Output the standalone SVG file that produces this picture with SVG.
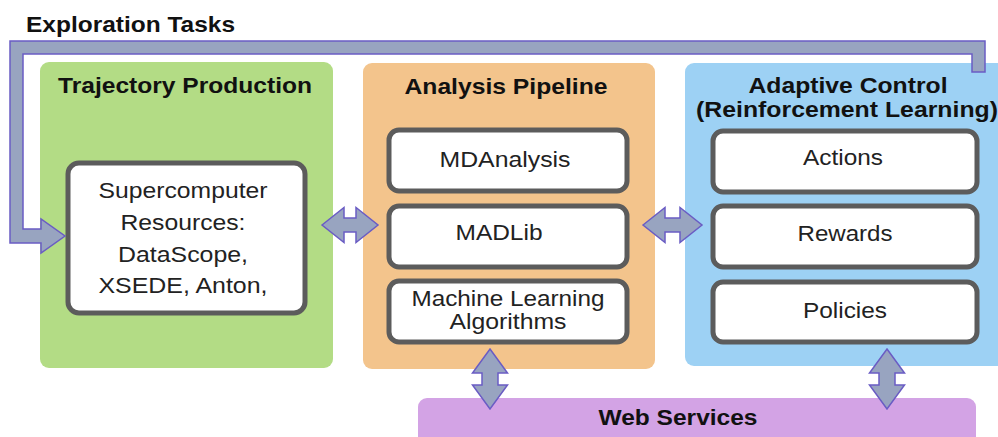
<svg xmlns="http://www.w3.org/2000/svg" width="998" height="437" viewBox="0 0 998 437">
<style>
.t{font-family:"Liberation Sans",Arial,sans-serif;font-weight:bold;font-size:22px;fill:#111;text-anchor:middle}
.l{font-family:"Liberation Sans",Arial,sans-serif;font-size:22px;fill:#222;text-anchor:middle}
.box{fill:#fff;stroke:#5c5c5c;stroke-width:5}
.arr{fill:#98a4c0;stroke:#6a5cc4;stroke-width:1.5;stroke-linejoin:miter}
</style>
<rect width="998" height="437" fill="#fff"/>
<g id="exploration-label">
<text class="t" x="26" y="32" style="text-anchor:start" textLength="209" lengthAdjust="spacingAndGlyphs">Exploration Tasks</text>
</g>
<g id="trajectory-production">
<rect x="40" y="62" width="293" height="306" rx="9" fill="#b3dc85"/>
<text class="t" x="185" y="93" textLength="254" lengthAdjust="spacingAndGlyphs">Trajectory Production</text>
</g>
<g id="supercomputer">
<rect class="box" x="68" y="163" width="237" height="150" rx="11"/>
<text class="l" x="183" y="198" font-size="23" textLength="169" lengthAdjust="spacingAndGlyphs">Supercomputer</text>
<text class="l" x="183" y="230" textLength="125" lengthAdjust="spacingAndGlyphs">Resources:</text>
<text class="l" x="183" y="262" textLength="130" lengthAdjust="spacingAndGlyphs">DataScope,</text>
<text class="l" x="183" y="293" textLength="169" lengthAdjust="spacingAndGlyphs">XSEDE, Anton,</text>
</g>
<g id="analysis-pipeline">
<rect x="363" y="63" width="292" height="306" rx="9" fill="#f3c48c"/>
<text class="t" x="506" y="94" textLength="203" lengthAdjust="spacingAndGlyphs">Analysis Pipeline</text>
</g>
<g id="mdanalysis">
<rect class="box" x="389" y="130" width="238" height="61" rx="10"/>
<text class="l" x="505" y="167" textLength="131" lengthAdjust="spacingAndGlyphs">MDAnalysis</text>
</g>
<g id="madlib">
<rect class="box" x="389" y="206" width="238" height="61" rx="10"/>
<text class="l" x="499" y="240" textLength="87" lengthAdjust="spacingAndGlyphs">MADLib</text>
</g>
<g id="machine-learning">
<rect class="box" x="389" y="281" width="238" height="61" rx="10"/>
<text class="l" x="508" y="306" font-size="20" textLength="193" lengthAdjust="spacingAndGlyphs">Machine Learning</text>
<text class="l" x="508" y="329" font-size="20" textLength="117" lengthAdjust="spacingAndGlyphs">Algorithms</text>
</g>
<g id="adaptive-control">
<rect x="685" y="63" width="330" height="303" rx="9" fill="#9dd1f4"/>
<text class="t" x="848" y="93" textLength="199" lengthAdjust="spacingAndGlyphs">Adaptive Control</text>
<text class="t" x="847" y="117" textLength="302" lengthAdjust="spacingAndGlyphs">(Reinforcement Learning)</text>
</g>
<g id="actions">
<rect class="box" x="713" y="131" width="264" height="61" rx="10"/>
<text class="l" x="843" y="165" textLength="80" lengthAdjust="spacingAndGlyphs">Actions</text>
</g>
<g id="rewards">
<rect class="box" x="713" y="206" width="264" height="61" rx="10"/>
<text class="l" x="845" y="241" textLength="95" lengthAdjust="spacingAndGlyphs">Rewards</text>
</g>
<g id="policies">
<rect class="box" x="713" y="282" width="264" height="60" rx="10"/>
<text class="l" x="845" y="318" textLength="84" lengthAdjust="spacingAndGlyphs">Policies</text>
</g>
<g id="web-services">
<rect x="418" y="398" width="558" height="50" rx="9" fill="#d3a3e5"/>
<text class="t" x="678" y="425" textLength="159" lengthAdjust="spacingAndGlyphs">Web Services</text>
</g>
<g id="connectors">
<path class="arr" d="M10,41 H985 V72 H972 V54 H23 V229 H41 V219 L65,236 L41,253 V243 H10 Z"/>
<path class="arr" d="M322,225 L344,207.5 V218 H356 V207.5 L378,225 L356,242.5 V232 H344 V242.5 Z"/>
<path class="arr" d="M643,225 L665,207.5 V218 H680 V207.5 L702,225 L680,242.5 V232 H665 V242.5 Z"/>
<path class="arr" d="M490,349 L507.5,373 H498 V385 H507.5 L490,409 L472.5,385 H482 V373 H472.5 Z"/>
<path class="arr" d="M887,349 L904.5,373 H895 V385 H904.5 L887,409 L869.5,385 H879 V373 H869.5 Z"/>
</g>
</svg>
